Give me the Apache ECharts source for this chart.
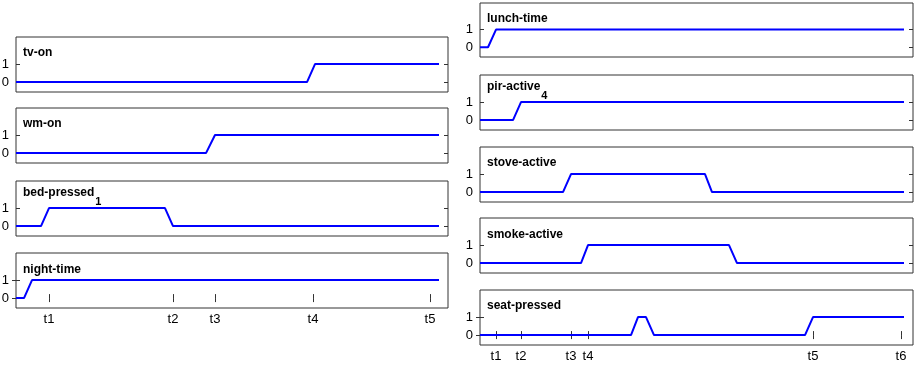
<!DOCTYPE html>
<html><head><meta charset="utf-8">
<script src="https://cdn.jsdelivr.net/npm/echarts@6/dist/echarts.min.js"></script>
<style>html,body{margin:0;padding:0;background:#fff}#c{width:916px;height:367px}</style>
</head><body><div id="c"></div>
<script>
// ---- data ----
const leftNames = ['tv-on', 'wm-on', 'bed-pressed', 'night-time'];
const leftSubs = ['', '', '1', ''];
const rightNames = ['lunch-time', 'pir-active', 'stove-active', 'smoke-active', 'seat-pressed'];
const rightSubs = ['', '4', '', '', ''];

// [time, state] samples
const tvOn = [[0, 0], [291, 0], [299, 1], [423, 1]];
const wmOn = [[0, 0], [190, 0], [199, 1], [423, 1]];
const bedPressed = [[0, 0], [25, 0], [33, 1], [149, 1], [157, 0], [423, 0]];
const nightTime = [[0, 0], [8, 0], [16, 1], [423, 1]];
const lunchTime = [[0, 0], [8, 0], [16, 1], [424, 1]];
const pirActive = [[0, 0], [33, 0], [41, 1], [424, 1]];
const stoveActive = [[0, 0], [83, 0], [91, 1], [225, 1], [232, 0], [424, 0]];
const smokeActive = [[0, 0], [101, 0], [108, 1], [249, 1], [257, 0], [424, 0]];
const seatPressed = [[0, 0], [151, 0], [158, 1], [166, 1], [174, 0], [325, 0], [333, 1], [424, 1]];

const leftTicks = [33, 157, 199, 297, 414];
const leftTickLabels = ['t1', 't2', 't3', 't4', 't5'];
const rightTicks = [16, 41, 91, 108, 333, 421];
const rightTickLabels = ['t1', 't2', 't3', 't4', 't5', 't6'];
const yTicks = [0, 1];
const yTickLabels = ['0', '1'];

const leftSeries = [tvOn, wmOn, bedPressed, nightTime];
const rightSeries = [lunchTime, pirActive, stoveActive, smokeActive, seatPressed];

// ---- layout ----
const FONT = 'Liberation Sans, Arial, Helvetica, sans-serif';
const BORDER = '#333333';
const columns = [
  { names: leftNames, subs: leftSubs, series: leftSeries, ticks: leftTicks, tickLabels: leftTickLabels,
    left: 16, width: 432, xMax: 432, tops: [37, 108, 181, 253], heights: [55, 55, 55, 55],
    titleX: 23, titleTops: [47, 118, 187, 264] },
  { names: rightNames, subs: rightSubs, series: rightSeries, ticks: rightTicks, tickLabels: rightTickLabels,
    left: 480, width: 433, xMax: 433, tops: [3, 75, 147, 218, 290], heights: [54, 55, 55, 55, 55],
    titleX: 487, titleTops: [13, 81, 157, 229, 300] }
];

const grid = [], xAxis = [], yAxis = [], series = [], title = [];
columns.forEach(col => {
  const n = col.names.length;
  col.names.forEach((name, i) => {
    const gi = grid.length;
    const isBottom = i === n - 1;
    grid.push({ left: col.left, top: col.tops[i], width: col.width, height: col.heights[i],
      show: true, borderColor: BORDER, borderWidth: 1, backgroundColor: 'transparent',
      containLabel: false, outerBoundsMode: 'none' });
    const xi = xAxis.length;
    xAxis.push({ type: 'value', gridIndex: gi, min: 0, max: col.xMax, position: 'bottom',
      axisLine: { show: false }, splitLine: { show: false },
      axisTick: { show: isBottom, inside: true, length: 4, customValues: col.ticks, lineStyle: { color: BORDER } },
      axisLabel: { show: isBottom, customValues: col.ticks, margin: 5, fontSize: 13, fontFamily: FONT, color: '#000',
        formatter: v => col.tickLabels[col.ticks.indexOf(v)] || '' } });
    if (isBottom) {
      xAxis.push({ type: 'value', gridIndex: gi, min: 0, max: col.xMax, position: 'top',
        axisLine: { show: false }, splitLine: { show: false },
        axisTick: { show: true, inside: true, length: 4, customValues: col.ticks, lineStyle: { color: BORDER } },
        axisLabel: { show: false } });
    }
    const yi = yAxis.length;
    yAxis.push({ type: 'value', gridIndex: gi, min: -0.55, max: 2.5, position: 'left',
      axisLine: { show: false }, splitLine: { show: false },
      axisTick: { show: true, inside: true, length: 4, customValues: yTicks, lineStyle: { color: BORDER } },
      axisLabel: { show: true, customValues: yTicks, margin: 7, fontSize: 13, fontFamily: FONT, color: '#000',
        formatter: v => yTickLabels[yTicks.indexOf(v)] } });
    yAxis.push({ type: 'value', gridIndex: gi, min: -0.55, max: 2.5, position: 'right',
      axisLine: { show: false }, splitLine: { show: false },
      axisTick: { show: true, inside: true, length: 4, customValues: yTicks, lineStyle: { color: BORDER } },
      axisLabel: { show: false } });
    series.push({ type: 'line', xAxisIndex: xi, yAxisIndex: yi, data: col.series[i],
      showSymbol: false, symbol: 'none', lineStyle: { color: '#0000ff', width: 2 }, silent: true });
    title.push({ left: col.titleX, top: col.titleTops[i], padding: 0,
      text: '{a|' + name + '}' + (col.subs[i] ? '{s|' + col.subs[i] + '}' : ''),
      textStyle: { rich: {
        a: { fontFamily: FONT, fontSize: 12, fontWeight: 'bold', color: '#000', lineHeight: 14, verticalAlign: 'top' },
        s: { fontFamily: FONT, fontSize: 11, fontWeight: 'bold', color: '#000', lineHeight: 30, padding: [0, 0, 0, 1] } } } });
  });
});

const chart = echarts.init(document.getElementById('c'), null, { renderer: 'canvas' });
chart.setOption({ animation: false, backgroundColor: '#fff', title, grid, xAxis, yAxis, series });
</script></body></html>
